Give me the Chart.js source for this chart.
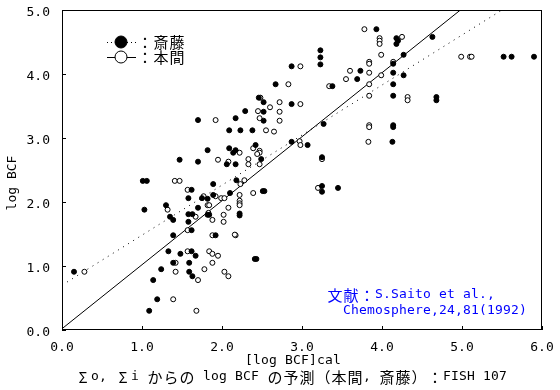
<!DOCTYPE html>
<html lang="ja">
<head>
    <meta charset="UTF-8">
    <title>Σo, Σi からの log BCF の予測</title>
    <script src="https://cdn.jsdelivr.net/npm/chart.js"></script>
    <style>
        * {
            margin: 0;
            padding: 0;
        }
        body {
            background: #fff;
        }
        #chartContainer {
            width: 560px;
            height: 390px;
        }
    </style>
</head>
<body>
    <div id="chartContainer">
        <canvas id="bcfChart"></canvas>
    </div>

    <script>
        // 斎藤 (filled): [log BCF]cal vs log BCF
        const saitoCalc = [
            0.15, 1.01, 1.06, 1.03, 1.47, 1.82, 1.70, 2.06, 2.17, 2.14,
            1.89, 2.18, 1.62, 1.58, 1.75, 1.82, 1.89, 2.10, 1.30, 1.70,
            1.35, 1.39, 1.58, 1.63, 1.82, 1.84, 1.58, 1.62, 1.39, 1.92,
            1.33, 1.62, 1.48, 1.67, 1.39, 1.59, 1.24, 1.59, 1.63, 1.14,
            1.19, 1.09,
            2.87, 2.67, 2.46, 2.52, 2.87, 2.29, 2.52, 1.70, 2.17, 2.52,
            2.09, 2.23, 2.38, 2.87, 3.07, 2.42, 2.09, 2.17, 2.49,
            3.93, 4.18, 4.20, 4.18, 4.63, 4.27, 3.23, 3.23, 3.23, 4.14,
            3.73, 3.69, 4.14, 4.27, 3.38, 4.14, 4.14, 4.68, 4.68, 3.27,
            4.14, 4.14, 4.13, 3.25, 3.25, 3.25, 3.45,
            2.51, 2.53, 2.22, 2.22, 2.41, 2.43,
            5.52, 5.62, 5.90
        ];
        const saitoObs = [
            0.91, 2.33, 2.33, 1.88, 2.66, 2.81, 2.63, 2.59, 2.59, 2.77,
            2.28, 2.34, 2.19, 2.06, 2.06, 2.05, 2.11, 2.14, 1.95, 1.91,
            1.77, 1.72, 1.81, 1.81, 1.80, 1.80, 1.69, 1.56, 1.48, 1.48,
            1.23, 1.23, 1.19, 1.16, 1.05, 1.05, 0.95, 0.91, 0.84, 0.78,
            0.48, 0.30,
            4.12, 3.84, 3.63, 3.56, 3.53, 3.42, 3.41, 3.28, 3.31, 3.27,
            3.12, 3.12, 3.12, 2.94, 2.89, 2.89, 2.84, 2.81, 2.67,
            4.70, 4.56, 4.52, 4.47, 4.58, 4.30, 4.37, 4.26, 4.15, 4.16,
            4.05, 3.92, 4.02, 3.98, 3.81, 3.84, 3.66, 3.64, 3.59, 3.22,
            3.20, 3.17, 2.94, 2.70, 2.25, 2.16, 2.22,
            2.17, 2.17, 1.82, 1.79, 1.11, 1.11,
            4.27, 4.27, 4.27
        ];

        // 本間 (open)
        const hommaCalc = [
            0.28, 1.95, 1.41, 1.47, 1.57, 1.77, 1.92, 1.99, 2.03, 1.32,
            1.82, 1.84, 2.08, 1.67, 1.83, 1.88, 2.02, 2.02, 1.57, 1.88,
            2.17, 1.57, 1.84, 1.88, 1.95, 1.88, 1.42, 1.42, 1.78, 2.03,
            2.08, 1.70, 1.39, 1.68,
            2.98, 2.83, 2.48, 2.60, 2.72, 2.98, 2.45, 2.72, 1.92, 2.47,
            2.72, 2.55, 2.65, 2.97, 2.98, 2.39, 2.47, 2.47, 2.44, 2.22,
            2.08, 2.33, 2.33, 2.47, 2.28, 2.23,
            3.78, 3.97, 3.97, 3.97, 4.25, 3.99, 4.99, 5.10, 5.12, 3.84,
            3.84, 4.14, 3.60, 3.55, 3.84, 3.99, 3.34, 3.84, 3.84, 4.32,
            4.32, 3.84, 3.84, 3.83, 3.25, 3.20,
            2.39, 2.22, 2.22, 2.22, 2.22, 2.16
        ];
        const hommaObs = [
            0.91, 2.66, 2.33, 2.33, 2.19, 2.09, 2.09, 2.06, 2.06, 1.88,
            1.95, 1.95, 1.91, 1.77, 1.83, 1.72, 1.80, 1.69, 1.56, 1.48,
            1.48, 1.23, 1.23, 1.19, 1.16, 1.05, 1.05, 0.91, 0.95, 0.91,
            0.84, 0.78, 0.48, 0.30,
            4.12, 3.84, 3.63, 3.48, 3.56, 3.53, 3.42, 3.41, 3.28, 3.31,
            3.27, 3.12, 3.10, 2.95, 2.89, 2.84, 2.80, 2.77, 2.75, 2.77,
            2.63, 2.67, 2.59, 2.59, 2.34, 2.28,
            4.70, 4.56, 4.52, 4.47, 4.58, 4.30, 4.27, 4.27, 4.27, 4.19,
            4.16, 4.19, 4.05, 3.92, 4.02, 3.98, 3.81, 3.84, 3.66, 3.64,
            3.59, 3.20, 3.17, 2.94, 2.67, 2.22,
            2.14, 2.11, 2.02, 1.98, 1.95, 1.49
        ];

        // regression lines (end points)
        const saitoLineX = [0.0, 5.5];
        const saitoLineY = [0.70, 5.0];
        const hommaLineX = [0.0, 4.98];
        const hommaLineY = [0.02, 5.0];

        const xTicks = [0, 1, 2, 3, 4, 5, 6];
        const yTicks = [0, 1, 2, 3, 4, 5];

        const toPoints = (xs, ys) => xs.map((x, i) => ({ x: x, y: ys[i] }));

        const MONO = '"DejaVu Sans Mono", monospace';
        const CJK = '"Noto Sans CJK JP", sans-serif';

        // draws text on a half/full width grid like the old bitmap font
        function cellText(ctx, str, x, y, color) {
            ctx.save();
            ctx.fillStyle = color || '#000';
            ctx.textBaseline = 'middle';
            ctx.textAlign = 'center';
            for (const ch of str) {
                const wide = /[\u0370-\u03ff\u3000-\u9fff\uff00-\uffef]/.test(ch);
                const w = wide ? 16 : 8;
                ctx.font = wide ? '15px ' + CJK : '13px ' + MONO;
                ctx.fillText(ch, x + w / 2, y);
                x += w;
            }
            ctx.restore();
        }

        const framePlugin = {
            id: 'frame',
            afterDraw(chart) {
                const ctx = chart.ctx;
                const a = chart.chartArea;
                const xs = chart.scales.x, ys = chart.scales.y;
                ctx.save();
                ctx.strokeStyle = '#000';
                ctx.lineWidth = 1;
                ctx.strokeRect(a.left + 0.5, a.top + 0.5, a.right - a.left - 1, a.bottom - a.top - 1);

                // inward tick marks
                ctx.beginPath();
                xTicks.forEach(v => {
                    const px = Math.round(xs.getPixelForValue(v)) + 0.5;
                    ctx.moveTo(px, a.bottom);
                    ctx.lineTo(px, a.bottom - 4);
                });
                yTicks.forEach(v => {
                    const py = Math.round(ys.getPixelForValue(v)) + 0.5;
                    ctx.moveTo(a.left, py);
                    ctx.lineTo(a.left + 4, py);
                });
                ctx.stroke();

                // legend
                const items = [
                    { ds: chart.data.datasets[0], dash: [1, 3], y: 42 },
                    { ds: chart.data.datasets[1], dash: [], y: 57 }
                ];
                items.forEach(it => {
                    ctx.beginPath();
                    ctx.setLineDash(it.dash);
                    ctx.moveTo(107, it.y + 0.5);
                    ctx.lineTo(136, it.y + 0.5);
                    ctx.stroke();
                    ctx.setLineDash([]);
                    ctx.beginPath();
                    ctx.arc(121, it.y, 6, 0, Math.PI * 2);
                    ctx.fillStyle = it.ds.backgroundColor;
                    ctx.fill();
                    ctx.stroke();
                    cellText(ctx, '：' + it.ds.label, 137, it.y);
                });

                // axis titles and caption
                cellText(ctx, '[log BCF]cal', 245, 361);
                cellText(ctx, 'Σo, Σi からの log BCF の予測（本間, 斎藤）：FISH 107', 75, 377);
                ctx.translate(13, 183);
                ctx.rotate(-Math.PI / 2);
                ctx.font = '13px ' + MONO;
                ctx.fillStyle = '#000';
                ctx.textAlign = 'center';
                ctx.textBaseline = 'middle';
                ctx.fillText('log BCF', 0, 0);
                ctx.restore();

                // reference
                cellText(ctx, '文献：S.Saito et al.,', 327, 295, '#0000ff');
                cellText(ctx, '  Chemosphere,24,81(1992)', 327, 311, '#0000ff');
            }
        };

        const ctx = document.getElementById('bcfChart').getContext('2d');
        const bcfChart = new Chart(ctx, {
            type: 'scatter',
            data: {
                datasets: [
                    {
                        label: '斎藤',
                        data: toPoints(saitoCalc, saitoObs),
                        backgroundColor: '#000',
                        borderColor: '#000',
                        borderWidth: 1,
                        pointRadius: 2.5,
                        order: 0
                    },
                    {
                        label: '本間',
                        data: toPoints(hommaCalc, hommaObs),
                        backgroundColor: '#fff',
                        borderColor: '#000',
                        borderWidth: 1,
                        pointRadius: 2.5,
                        order: 0
                    },
                    {
                        label: '斎藤 line',
                        data: toPoints(saitoLineX, saitoLineY),
                        showLine: true,
                        borderColor: '#000',
                        borderWidth: 1,
                        borderDash: [1, 5],
                        pointRadius: 0,
                        order: 1
                    },
                    {
                        label: '本間 line',
                        data: toPoints(hommaLineX, hommaLineY),
                        showLine: true,
                        borderColor: '#000',
                        borderWidth: 1,
                        pointRadius: 0,
                        order: 1
                    }
                ]
            },
            options: {
                responsive: true,
                maintainAspectRatio: false,
                animation: false,
                layout: {
                    padding: { top: 10, right: 18, bottom: 0, left: 0 }
                },
                scales: {
                    x: {
                        type: 'linear',
                        min: 0,
                        max: 6,
                        afterFit: s => {
                            s.height = 60;
                            s.paddingLeft = 0;
                            s.paddingRight = 0;
                        },
                        afterBuildTicks: s => { s.ticks = xTicks.map(v => ({ value: v })); },
                        grid: { display: false, drawTicks: false },
                        border: { display: false },
                        ticks: {
                            padding: 10,
                            color: '#000',
                            font: { family: MONO, size: 13 },
                            maxRotation: 0,
                            callback: v => v.toFixed(1)
                        }
                    },
                    y: {
                        min: 0,
                        max: 5,
                        afterFit: s => {
                            s.width = 62;
                            s.paddingTop = 0;
                            s.paddingBottom = 0;
                        },
                        afterBuildTicks: s => { s.ticks = yTicks.map(v => ({ value: v })); },
                        grid: { display: false, drawTicks: false },
                        border: { display: false },
                        ticks: {
                            padding: 12,
                            labelOffset: 3,
                            color: '#000',
                            font: { family: MONO, size: 13 },
                            callback: v => v.toFixed(1)
                        }
                    }
                },
                plugins: {
                    legend: { display: false },
                    tooltip: { enabled: false }
                }
            },
            plugins: [framePlugin]
        });
    </script>
</body>
</html>
